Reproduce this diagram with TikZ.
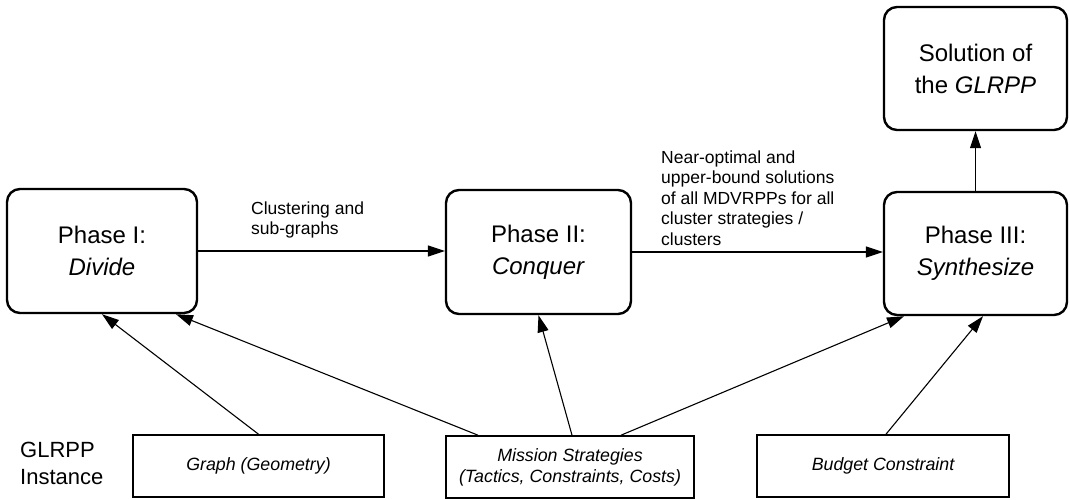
\documentclass[tikz,border=0pt]{standalone}
\usepackage{fontspec}
\setmainfont{Liberation Sans}
\usetikzlibrary{arrows.meta}

\tikzset{
  phase/.style={draw=black, line width=2.4pt, rounded corners=13pt,
    inner sep=0pt, align=center, font=\fontsize{24}{32}\selectfont},
  inputbox/.style={draw=black, line width=1.6pt, inner sep=0pt,
    minimum height=62pt, align=center,
    font=\fontsize{17.8}{21}\selectfont\itshape},
  flowlabel/.style={anchor=west, align=left, inner sep=0pt,
    font=\fontsize{17.5}{20.5}\selectfont},
  link/.style={line width=1.1pt, -{Triangle[length=17pt,width=11pt]}}
}

\begin{document}
\begin{tikzpicture}[x=1pt, y=-1pt]
  \useasboundingbox (0,0) rectangle (1070,500);

  % the three phases and the result
  \node[phase, minimum width=190pt, minimum height=124pt] (p1) at (102,251)
    {Phase I:\\\textit{Divide}};
  \node[phase, minimum width=185pt, minimum height=124pt] (p2) at (538.5,252)
    {Phase II:\\\textit{Conquer}};
  \node[phase, minimum width=183pt, minimum height=123pt] (p3) at (975.5,253.5)
    {Phase III:\\\textit{Synthesize}};
  \node[phase, minimum width=183pt, minimum height=123pt] (sol) at (975.5,68.5)
    {Solution of\\the \textit{GLRPP}};

  % problem instance inputs
  \node[anchor=west, align=left, inner sep=0pt,
        font=\fontsize{22}{27}\selectfont] (inst) at (20,463.5)
    {GLRPP\\Instance};
  \node[inputbox, minimum width=251pt] (g) at (258.5,466) {Graph (Geometry)};
  \node[inputbox, minimum width=248pt] (m) at (570,467)
    {Mission Strategies\\(Tactics, Constraints, Costs)};
  \node[inputbox, minimum width=252pt] (b) at (883,466) {Budget Constraint};

  % labels on the main flow
  \node[flowlabel] (l12) at (251,220) {Clustering and\\sub-graphs};
  \node[flowlabel] (l23) at (661,198)
    {Near-optimal and\\upper-bound solutions\\of all MDVRPPs for all\\cluster strategies /\\clusters};

  % main flow
  \draw[link] (p1.east) -- (p1.east -| p2.west);
  \draw[link] (p2.east) -- (p2.east -| p3.west);
  \draw[link] (p3.north) -- (sol.south);

  % inputs feeding the phases
  \draw[link] (g.north) -- (p1.south);
  \draw[link] ([xshift=-92pt]m.north) -- ([xshift=74pt]p1.south);
  \draw[link] ([xshift=2pt]m.north) -- (p2.south);
  \draw[link] ([xshift=51pt]m.north) -- ([xshift=-71.5pt]p3.south);
  \draw[link] ([xshift=3pt]b.north) -- ([xshift=7.5pt]p3.south);
\end{tikzpicture}
\end{document}
